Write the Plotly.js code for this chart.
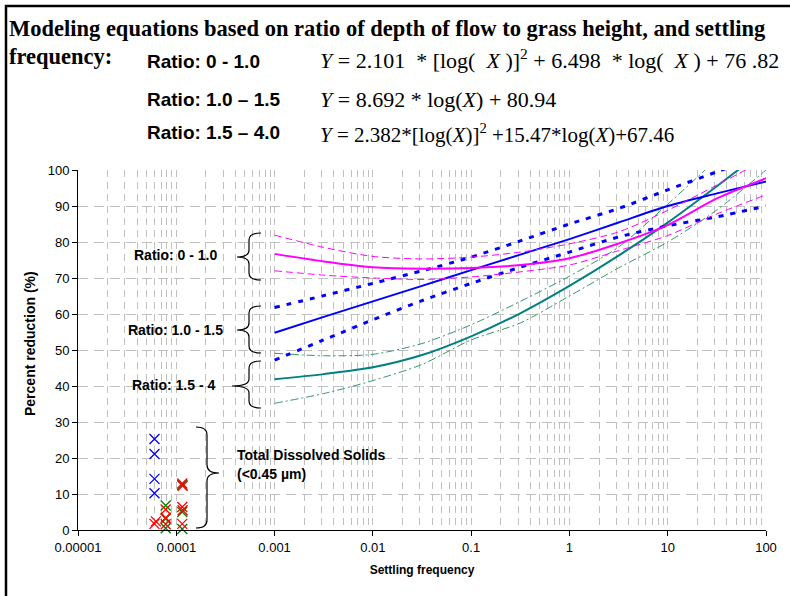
<!DOCTYPE html>
<html>
<head>
<meta charset="utf-8">
<script src="https://cdn.plot.ly/plotly-3.0.1.min.js"></script>
<style>
html,body{margin:0;padding:0;background:#fff;}
#chart{width:790px;height:596px;}
</style>
</head>
<body>
<div id="chart"></div>
<script>
// ---- Data ----
const settlingFreq = [0.001, 0.003162, 0.01, 0.03162, 0.1, 0.3162, 1, 3.162, 10, 31.62, 100];

const ratio0to1Fit   = [76.7, 74.6, 73.0, 72.6, 72.8, 73.6, 75.5, 79.6, 84.7, 92.1, 97.7];
const ratio0to1Upper = [81.9, 78.5, 76.0, 75.3, 75.8, 77.2, 79.5, 82.8, 88.8, 95.8, 103.0];
const ratio0to1Lower = [72.0, 70.8, 70.0, 69.6, 70.3, 71.7, 73.6, 77.6, 81.8, 87.8, 93.1];

const ratio1to15Fit   = [54.8, 59.2, 63.5, 67.8, 72.2, 76.5, 80.8, 85.4, 90.0, 93.5, 96.8];
const ratio1to15Upper = [61.8, 65.1, 68.5, 72.0, 75.8, 80.3, 85.0, 89.3, 94.5, 99.5, 104.5];
const ratio1to15Lower = [47.2, 52.8, 58.4, 63.7, 68.5, 73.0, 77.2, 81.4, 84.5, 87.0, 90.0];

const ratio15to4Fit   = [41.9, 43.3, 45.2, 48.6, 53.8, 60.2, 67.8, 76.2, 85.4, 95.5, 106.0];
const ratio15to4Upper = [49.1, 48.4, 48.8, 51.8, 57.0, 63.5, 70.5, 78.6, 90.5, 103.0, 116.0];
const ratio15to4Lower = [35.2, 37.9, 41.5, 46.0, 52.8, 57.5, 65.0, 72.8, 80.0, 88.9, 100.0];

// Total dissolved solids observations
const tdsBlueX  = [0.00006, 0.00006, 0.00006, 0.00006];
const tdsBlueY  = [25.3, 21.1, 14.2, 10.2];
const tdsRedX   = [0.00006, 0.000062, 0.000078, 0.000078, 0.000078, 0.000115, 0.000116, 0.000115, 0.000116, 0.000115];
const tdsRedY   = [1.7, 2.4, 5.7, 3.4, 1.6, 12.9, 12.3, 6.4, 5.5, 1.7];
const tdsGreenX = [0.000078, 0.000078, 0.000078, 0.000115, 0.000115, 0.000115];
const tdsGreenY = [6.8, 3.1, 0.5, 12.5, 5.0, 0.3];

const yTickVals = [0, 10, 20, 30, 40, 50, 60, 70, 80, 90, 100];
const xTickVals = [0.00001, 0.0001, 0.001, 0.01, 0.1, 1, 10, 100];
const xTickText = ['0.00001', '0.0001', '0.001', '0.01', '0.1', '1', '10', '100'];

// ---- Geometry helpers (plot area in pixels) ----
const W = 790, H = 596;
const M = {l: 78, r: 24, t: 170, b: 66};
const PW = W - M.l - M.r, PH = H - M.t - M.b;
const px = x => (x - M.l) / PW;
const py = y => (H - M.b - y) / PH;

// minor log ticks
const minorVals = [];
for (let e = -5; e < 2; e++) for (let d = 2; d <= 9; d++) minorVals.push(d * Math.pow(10, e));

const SANS = 'Liberation Sans, Arial, sans-serif';
const SERIF = 'Liberation Serif, Times New Roman, serif';

function line(y, color, width, dash) {
  return {x: settlingFreq, y: y, type: 'scatter', mode: 'lines',
    line: {color: color, width: width, dash: dash || 'solid', shape: 'spline', smoothing: 0.8},
    hoverinfo: 'skip', showlegend: false};
}
function marks(x, y, color) {
  return {x: x, y: y, type: 'scatter', mode: 'markers', cliponaxis: false,
    marker: {symbol: 'x-thin-open', size: 10, color: color, line: {color: color, width: 1.3}},
    hoverinfo: 'skip', showlegend: false};
}

const traces = [
  line(ratio15to4Upper, '#339966', 1, '8px,3px,2px,3px'),
  line(ratio15to4Lower, '#339966', 1, '8px,3px,2px,3px'),
  line(ratio15to4Fit, '#008080', 2),
  line(ratio1to15Upper, '#0000FF', 3, '5px,7px'),
  line(ratio1to15Lower, '#0000FF', 3, '5px,7px'),
  line(ratio1to15Fit, '#0000FF', 2),
  line(ratio0to1Upper, '#FF00FF', 1, '7px,4px'),
  line(ratio0to1Lower, '#FF00FF', 1, '7px,4px'),
  line(ratio0to1Fit, '#FF00FF', 2),
  marks(tdsGreenX, tdsGreenY, '#008000'),
  marks(tdsBlueX, tdsBlueY, '#0000FF'),
  marks(tdsRedX, tdsRedY, '#FF0000')
];

// brace paths (pixel coords -> paper)
function brace(xe, xs, xt, yt, yb, ym, r) {
  const P = (x, y) => px(x).toFixed(5) + ',' + py(y).toFixed(5);
  return 'M' + P(xe, yt) + ' Q' + P(xs, yt) + ' ' + P(xs, yt + r) +
    ' L' + P(xs, ym - r) + ' Q' + P(xs, ym) + ' ' + P(xt, ym) +
    ' Q' + P(xs, ym) + ' ' + P(xs, ym + r) +
    ' L' + P(xs, yb - r) + ' Q' + P(xs, yb) + ' ' + P(xe, yb);
}
const braceStyle = {color: '#000', width: 1.2};
const shapes = [
  {type: 'path', xref: 'paper', yref: 'paper', path: brace(261, 249, 237, 233, 280, 257, 7), line: braceStyle},
  {type: 'path', xref: 'paper', yref: 'paper', path: brace(261, 249, 237, 306, 353, 330, 7), line: braceStyle},
  {type: 'path', xref: 'paper', yref: 'paper', path: brace(261, 249, 232, 361, 408, 386, 7), line: braceStyle},
  {type: 'path', xref: 'paper', yref: 'paper', path: brace(196, 207, 219, 427, 528, 473, 8), line: braceStyle},
  {type: 'rect', xref: 'paper', yref: 'paper', x0: px(6), x1: px(820), y0: py(6), y1: py(640),
   line: {color: '#000', width: 2.5}, fillcolor: 'rgba(0,0,0,0)'}
];

function ann(text, x, y, size, font, xanchor) {
  return {text: text, xref: 'paper', yref: 'paper', x: px(x), y: py(y),
    xanchor: xanchor || 'left', yanchor: 'middle', showarrow: false,
    font: {family: font, size: size, color: '#000'}};
}
const nb = '\u00a0';
const eq1 = '<i>Y</i>' + nb + '=' + nb + '2.101' + nb + nb + '*' + nb + '[log(' + nb + nb + '<i>X</i>' + nb + ')]<sup>2</sup>' + nb + '+' + nb + '6.498' + nb + nb + '*' + nb + 'log(' + nb + nb + '<i>X</i>' + nb + ')' + nb + '+' + nb + '76' + nb + '.82';
const eq2 = '<i>Y</i> = 8.692 * log(<i>X</i>) + 80.94';
const eq3 = '<i>Y</i> = 2.382*[log(<i>X</i>)]<sup>2</sup> +15.47*log(<i>X</i>)+67.46';
const yTitle = ann('<b>Percent reduction (%)</b>', 30, 344, 14, SANS, 'center');
yTitle.textangle = -90;
const annotations = [
  ann('<b>Modeling equations based on ratio of depth of flow to grass height, and settling</b>', 7, 28, 22.5, SERIF),
  ann('<b>frequency:</b>', 7, 56, 22.5, SERIF),
  ann('<b>Ratio: 0 - 1.0</b>', 145, 62, 19, SANS),
  ann('<b>Ratio: 1.0 \u2013 1.5</b>', 145, 99, 19, SANS),
  ann('<b>Ratio: 1.5 \u2013 4.0</b>', 145, 133, 19, SANS),
  ann(eq1, 318, 59, 22, SERIF),
  ann(eq2, 318, 99, 22, SERIF),
  ann(eq3, 318, 134, 21, SERIF),
  ann('<b>Ratio: 0 - 1.0</b>', 175, 255, 14, SANS, 'center'),
  ann('<b>Ratio: 1.0 - 1.5</b>', 175.5, 330, 14, SANS, 'center'),
  ann('<b>Ratio: 1.5 - 4</b>', 173.5, 385, 14, SANS, 'center'),
  ann('<b>Total Dissolved Solids</b>', 235, 455, 14, SANS),
  ann('<b>(<0.45 \u00b5m)</b>', 235, 474, 14, SANS),
  yTitle
];

const gridColor = '#C0C0C0';
const layout = {
  width: W, height: H,
  margin: M,
  paper_bgcolor: '#fff', plot_bgcolor: '#fff',
  showlegend: false,
  font: {family: SANS, size: 13, color: '#000'},
  xaxis: {
    type: 'log', range: [-5, 2], tickmode: 'array', tickvals: xTickVals, ticktext: xTickText,
    ticks: 'outside', ticklen: 5, tickcolor: '#000', tickfont: {family: SANS, size: 13, color: '#000'},
    showline: true, linecolor: '#000', linewidth: 1, zeroline: false,
    showgrid: true, gridcolor: gridColor, gridwidth: 1, griddash: '7px,5px',
    minor: {tickmode: 'array', tickvals: minorVals, showgrid: true, gridcolor: gridColor, gridwidth: 1, griddash: '7px,5px', ticks: ''},
    title: {text: '<b>Settling frequency</b>', font: {family: SANS, size: 12, color: '#000'}, standoff: 12}
  },
  yaxis: {
    range: [0, 100], tickmode: 'array', tickvals: yTickVals,
    ticks: 'outside', ticklen: 5, tickcolor: '#000', tickfont: {family: SANS, size: 13, color: '#000'},
    showline: true, linecolor: '#000', linewidth: 1, zeroline: false,
    showgrid: true, gridcolor: gridColor, gridwidth: 1, griddash: '10px,6px'
  },
  shapes: shapes,
  annotations: annotations
};

Plotly.newPlot('chart', traces, layout, {displayModeBar: false, staticPlot: true});
</script>
</body>
</html>
